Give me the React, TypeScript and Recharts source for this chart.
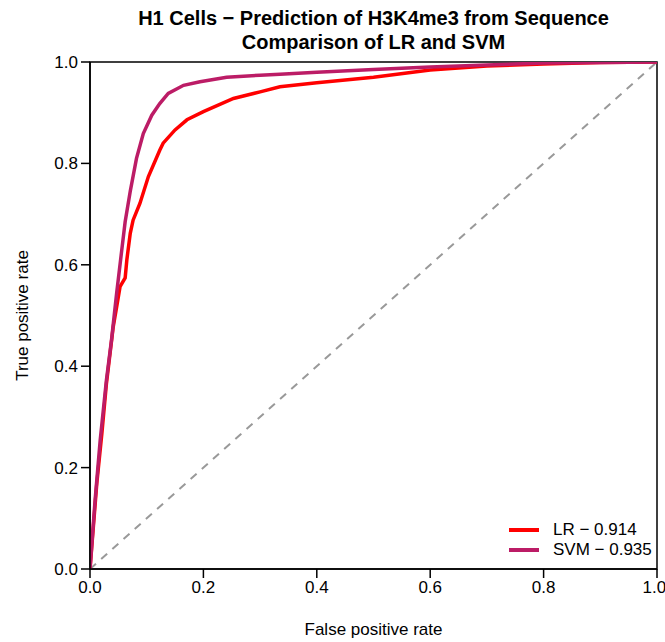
import React from "react";
import {
	LineChart,
	Line,
	XAxis,
	YAxis,
	ReferenceLine,
	ReferenceArea,
} from "recharts";

const lrFpr = [0, 0.012, 0.021, 0.029, 0.041, 0.047, 0.053, 0.062, 0.065, 0.071, 0.076, 0.088, 0.103, 0.123, 0.129, 0.15, 0.171, 0.2, 0.253, 0.3, 0.335, 0.4, 0.5, 0.6, 0.7, 0.8, 0.9, 1];
const lrTpr = [0, 0.169, 0.268, 0.366, 0.478, 0.517, 0.557, 0.574, 0.61, 0.662, 0.688, 0.721, 0.774, 0.826, 0.84, 0.866, 0.886, 0.902, 0.928, 0.941, 0.951, 0.959, 0.97, 0.984, 0.992, 0.996, 0.999, 1];

const svmFpr = [0, 0.009, 0.018, 0.029, 0.038, 0.047, 0.056, 0.062, 0.071, 0.082, 0.094, 0.109, 0.123, 0.138, 0.165, 0.194, 0.241, 0.3, 0.335, 0.4, 0.5, 0.6, 0.7, 0.8, 0.9, 1];
const svmTpr = [0, 0.136, 0.254, 0.373, 0.452, 0.544, 0.629, 0.685, 0.745, 0.81, 0.859, 0.895, 0.918, 0.938, 0.954, 0.961, 0.97, 0.974, 0.976, 0.98, 0.985, 0.99, 0.994, 0.998, 0.999, 1];

const ticks = [0, 0.2, 0.4, 0.6, 0.8, 1];

const seriesNames = ["LR − 0.914", "SVM − 0.935"];
const COLORS = ["#FF0000", "#BC1C66"];

const lrData = lrFpr.map((x, i) => ({ x, y: lrTpr[i] }));
const svmData = svmFpr.map((x, i) => ({ x, y: svmTpr[i] }));

const FONT = "'Liberation Sans', Arial, Helvetica, sans-serif";

// legend drawn as html on top of the chart so it doesn't eat plot space
const LegendBox = () => (
	<div style={{ position: "absolute", left: 509, top: 520, fontFamily: FONT, fontSize: 17, color: "#000" }}>
		{seriesNames.map((name, i) => (
			<div key={name} style={{ display: "flex", alignItems: "center", height: 20 }}>
				<span style={{ display: "inline-block", width: 30, height: 4, background: COLORS[i], marginRight: 14 }} />
				<span>{name}</span>
			</div>
		))}
	</div>
);

const App = () => {
	const tickStyle = { fontFamily: FONT, fontSize: 17, fill: "#000" };
	return (
		<div style={{ position: "absolute", left: 0, top: 0, width: 665, height: 642, background: "#fff" }}>
			<div
				style={{
					position: "absolute",
					left: 40,
					width: 667,
					top: 6,
					textAlign: "center",
					fontFamily: FONT,
					fontWeight: "bold",
					fontSize: 20,
					lineHeight: "24px",
					color: "#000",
					whiteSpace: "nowrap",
				}}
			>
				H1 Cells − Prediction of H3K4me3 from Sequence
				<br />
				Comparison of LR and SVM
			</div>
			<LineChart width={665} height={642} margin={{ top: 62, right: 8, bottom: 0, left: 0 }}>
				<XAxis
					type="number"
					dataKey="x"
					domain={[0, 1]}
					ticks={ticks}
					tickFormatter={(v: number) => v.toFixed(1)}
					tick={tickStyle}
					tickSize={9}
					tickMargin={3}
					height={73}
					stroke="#000"
					strokeWidth={1.5}
					allowDataOverflow
					label={{ value: "False positive rate", position: "insideBottom", offset: 7, style: { fontFamily: FONT, fontSize: 17, fill: "#000" } }}
				/>
				<YAxis
					type="number"
					dataKey="y"
					domain={[0, 1]}
					ticks={ticks}
					tickFormatter={(v: number) => v.toFixed(1)}
					tick={tickStyle}
					tickSize={9}
					tickMargin={3}
					width={90}
					stroke="#000"
					strokeWidth={1.5}
					allowDataOverflow
					label={{ value: "True positive rate", angle: -90, position: "insideLeft", offset: 22, style: { fontFamily: FONT, fontSize: 17, fill: "#000", textAnchor: "middle" } }}
				/>
				<ReferenceArea x1={0} x2={1} y1={0} y2={1} fill="none" stroke="#000" strokeWidth={1.5} ifOverflow="visible" />
				<ReferenceLine
					segment={[{ x: 0, y: 0 }, { x: 1, y: 1 }]}
					stroke="#999999"
					strokeWidth={2}
					strokeDasharray="8 7"
				/>
				<Line data={lrData} dataKey="y" name={seriesNames[0]} type="linear" stroke={COLORS[0]} strokeWidth={3.5} dot={false} isAnimationActive={false} />
				<Line data={svmData} dataKey="y" name={seriesNames[1]} type="linear" stroke={COLORS[1]} strokeWidth={3.5} dot={false} isAnimationActive={false} />
			</LineChart>
			<LegendBox />
		</div>
	);
};

export default App;
